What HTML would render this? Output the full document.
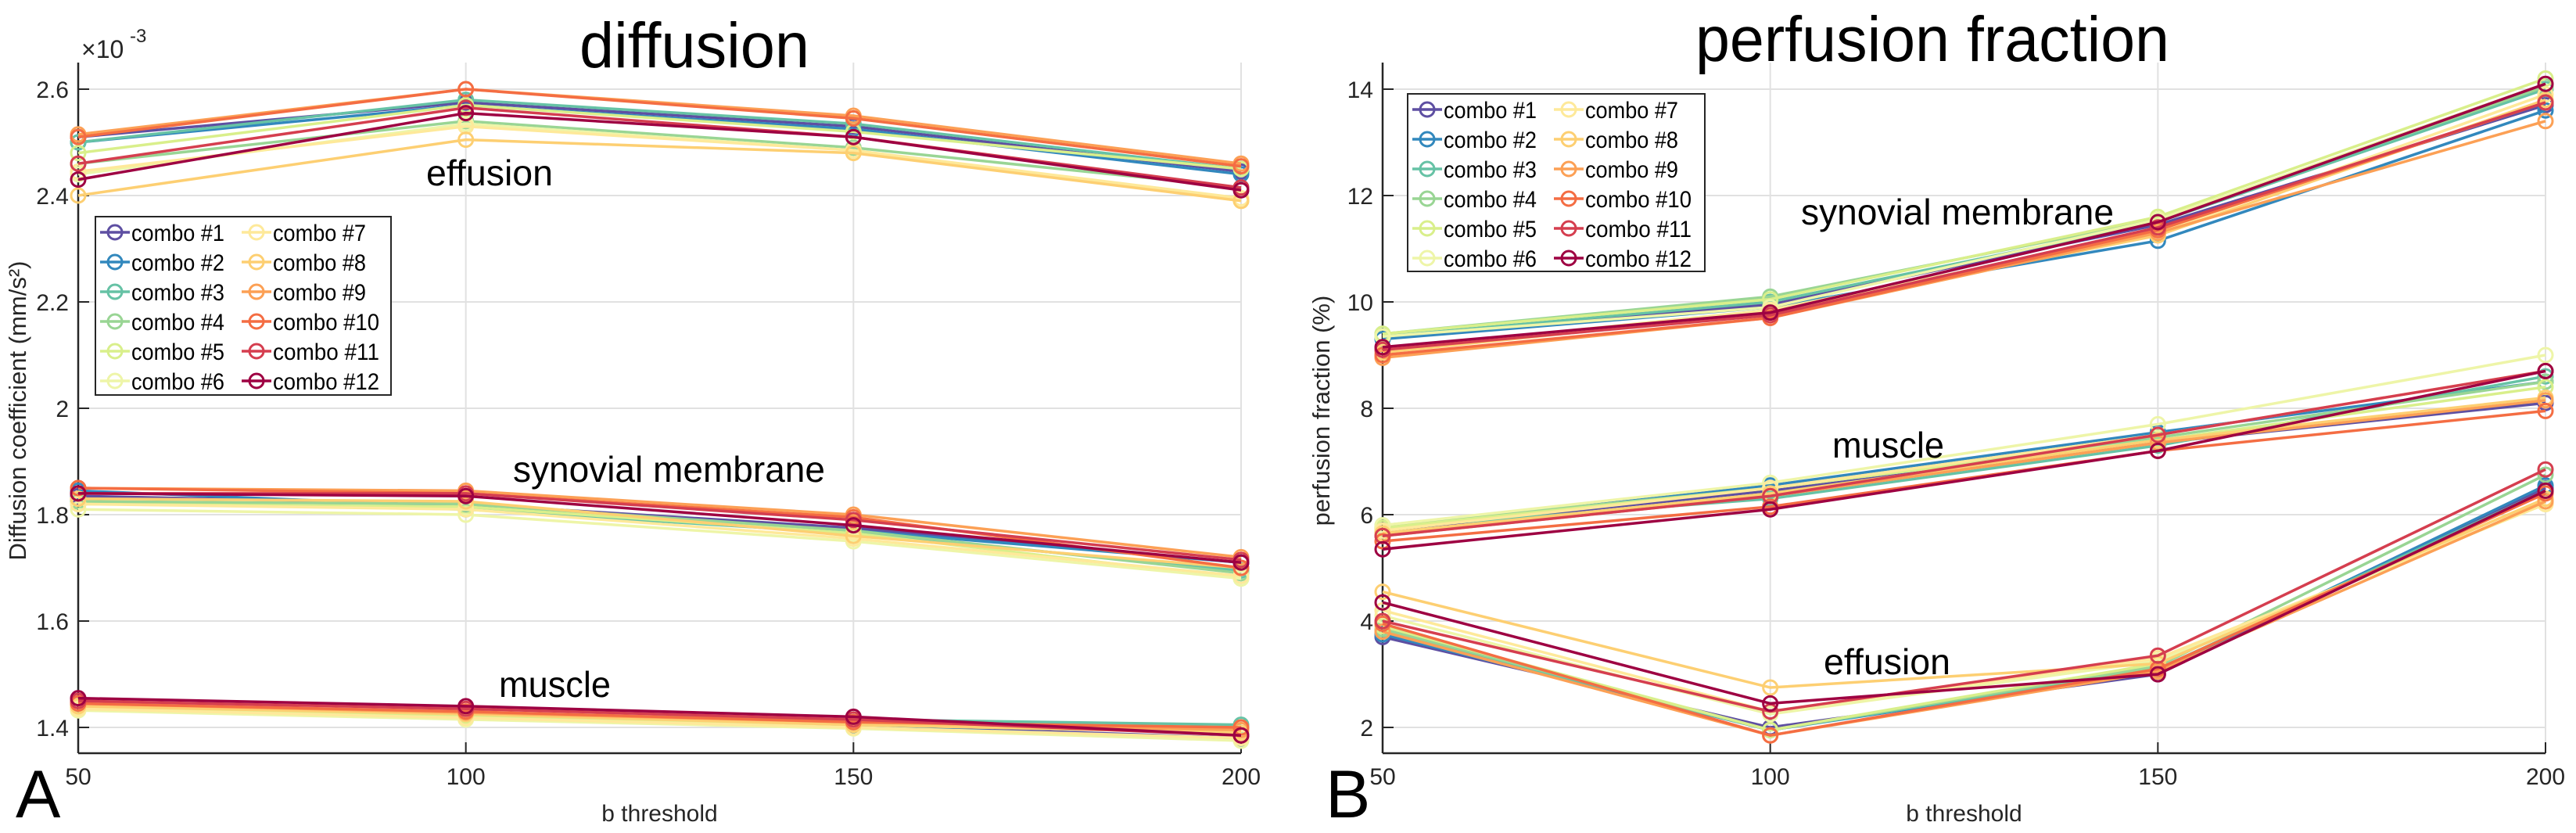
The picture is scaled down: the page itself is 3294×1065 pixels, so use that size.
<!DOCTYPE html>
<html><head><meta charset="utf-8"><style>
html,body{margin:0;padding:0;background:#fff;}
svg{display:block;font-family:"Liberation Sans",sans-serif;}
</style></head><body>
<svg id="fig" width="3294" height="1065" viewBox="0 0 3294 1065" xmlns="http://www.w3.org/2000/svg"></svg>
<script>
const bThresholds = [50, 100, 150, 200];
const comboNames = ["combo #1","combo #2","combo #3","combo #4","combo #5","combo #6","combo #7","combo #8","combo #9","combo #10","combo #11","combo #12"];
const comboColors = ["#5e4fa2","#3288bd","#66c2a5","#99d594","#d9ef8b","#eef5a8","#fee99a","#fdcf72","#fca055","#f46d43","#d53e4f","#9e0142"];
// diffusion (x1e-3)
const diffEffusion = [
 [2.51,2.575,2.53,2.445],[2.50,2.57,2.525,2.44],[2.50,2.58,2.535,2.45],[2.46,2.54,2.49,2.415],
 [2.48,2.57,2.52,2.45],[2.44,2.535,2.485,2.39],[2.445,2.53,2.485,2.395],[2.40,2.505,2.48,2.39],
 [2.515,2.60,2.55,2.46],[2.51,2.60,2.545,2.455],[2.46,2.565,2.51,2.415],[2.43,2.555,2.51,2.41]];
const diffSynovial = [
 [1.835,1.82,1.775,1.71],[1.845,1.815,1.77,1.71],[1.825,1.81,1.765,1.695],[1.825,1.82,1.77,1.69],
 [1.82,1.815,1.765,1.68],[1.81,1.80,1.75,1.68],[1.82,1.81,1.755,1.685],[1.83,1.825,1.76,1.70],
 [1.85,1.845,1.80,1.72],[1.85,1.84,1.795,1.70],[1.84,1.84,1.79,1.715],[1.84,1.835,1.78,1.71]];
const diffMuscle = [
 [1.44,1.425,1.405,1.38],[1.435,1.418,1.402,1.378],[1.44,1.425,1.415,1.405],[1.44,1.425,1.41,1.40],
 [1.438,1.422,1.405,1.39],[1.432,1.415,1.398,1.375],[1.435,1.418,1.40,1.38],[1.44,1.425,1.405,1.39],
 [1.445,1.428,1.41,1.395],[1.445,1.43,1.41,1.40],[1.45,1.435,1.415,1.385],[1.455,1.44,1.42,1.385]];
// perfusion fraction (%)
const perfSynovial = [
 [9.35,9.95,11.45,13.7],[9.3,9.9,11.15,13.6],[9.35,10.0,11.5,14.0],[9.4,10.1,11.55,14.05],
 [9.4,10.05,11.6,14.2],[9.35,9.9,11.55,14.1],[9.1,9.85,11.3,13.9],[9.05,9.8,11.25,13.8],
 [8.95,9.7,11.3,13.4],[9.0,9.7,11.35,13.75],[9.1,9.75,11.4,13.75],[9.15,9.8,11.5,14.1]];
const perfMuscle = [
 [5.7,6.45,7.35,8.1],[5.75,6.55,7.55,8.5],[5.75,6.3,7.3,8.6],[5.8,6.5,7.45,8.5],
 [5.75,6.5,7.4,8.4],[5.8,6.6,7.7,9.0],[5.7,6.5,7.5,8.7],[5.65,6.4,7.4,8.2],
 [5.6,6.35,7.35,8.15],[5.5,6.15,7.2,7.95],[5.6,6.35,7.5,8.7],[5.35,6.1,7.2,8.7]];
const perfEffusion = [
 [3.7,2.0,3.0,6.5],[3.75,1.95,3.05,6.55],[3.8,1.95,3.1,6.45],[3.85,1.95,3.15,6.75],
 [3.9,1.95,3.2,6.3],[4.1,2.25,3.25,6.2],[4.2,2.3,3.3,6.2],[4.55,2.75,3.2,6.3],
 [3.8,1.85,3.05,6.25],[3.95,1.85,3.1,6.4],[4.0,2.3,3.35,6.85],[4.35,2.45,3.0,6.45]];
const diffTicks = [1.4,1.6,1.8,2.0,2.2,2.4,2.6];
const diffTickLabels = ["1.4","1.6","1.8","2","2.2","2.4","2.6"];
const perfTicks = [2,4,6,8,10,12,14];
const perfTickLabels = ["2","4","6","8","10","12","14"];

const NS = "http://www.w3.org/2000/svg";
const svg = document.getElementById("fig");
function mk(tag, attrs, parent, name, inter){
  const e = document.createElementNS(NS, tag);
  for (const k in attrs) e.setAttribute(k, attrs[k]);
  
  
  (parent||svg).appendChild(e); return e;
}
function txt(s, attrs, parent, name){ const t = mk("text", attrs, parent, name, false); t.textContent = s; return t; }

function panel(cfg){
  const g = mk("g", {}, svg, cfg.name, false);
  const X = v => cfg.x0 + (v-50)/(150)*(cfg.x1-cfg.x0);
  const Y = v => cfg.yTop + (cfg.yMax - v)/(cfg.yMax-cfg.yMin)*(cfg.yBot-cfg.yTop);
  cfg.ticks.forEach((t,i)=>{
    mk("line",{x1:cfg.x0,x2:cfg.x1,y1:Y(t),y2:Y(t),stroke:"#e1e1e1","stroke-width":2},g,"y-gridline",false);
    mk("line",{x1:cfg.x0,x2:cfg.x0+14,y1:Y(t),y2:Y(t),stroke:"#262626","stroke-width":2},g,"y-tick",false);
    txt(cfg.tickLabels[i],{x:cfg.x0-12,y:Y(t)+11,"text-anchor":"end","font-size":30,fill:"#262626"},g,"y-tick-label");
  });
  bThresholds.forEach(b=>{
    mk("line",{x1:X(b),x2:X(b),y1:cfg.yTop,y2:cfg.yBot,stroke:"#e1e1e1","stroke-width":2},g,"x-gridline",false);
    mk("line",{x1:X(b),x2:X(b),y1:cfg.yBot,y2:cfg.yBot-14,stroke:"#262626","stroke-width":2},g,"x-tick",false);
    txt(String(b),{x:X(b),y:cfg.yBot+40,"text-anchor":"middle","font-size":30,fill:"#262626"},g,"x-tick-label");
  });
  mk("line",{x1:cfg.x0,x2:cfg.x0,y1:cfg.yTop,y2:cfg.yBot,stroke:"#262626","stroke-width":2.5},g,"y-axis",false);
  mk("line",{x1:cfg.x0,x2:cfg.x1,y1:cfg.yBot,y2:cfg.yBot,stroke:"#262626","stroke-width":2.5},g,"x-axis",false);
  cfg.groups.forEach(grp=>{
    grp.data.forEach((row,si)=>{
      const pts = row.map((v,i)=>X(bThresholds[i])+","+Y(v)).join(" ");
      mk("polyline",{points:pts,fill:"none",stroke:comboColors[si],"stroke-width":3.5},g,grp.name+"-line-combo-"+(si+1),false);
      row.forEach((v,i)=>{
        mk("circle",{cx:X(bThresholds[i]),cy:Y(v),r:9,fill:"none",stroke:comboColors[si],"stroke-width":3},g,grp.name+"-marker-combo-"+(si+1),false);
      });
    });
  });
  cfg.annots.forEach(a=>txt(a.t,{x:a.x,y:a.y,"font-size":46,fill:"#000",textLength:a.w,lengthAdjust:"spacingAndGlyphs"},g,a.name));
  const L = cfg.legend;
  mk("rect",{x:L.x,y:L.y,width:L.w,height:L.h,fill:"#fff",stroke:"#262626","stroke-width":2},g,"legend-box",false);
  comboNames.forEach((n,i)=>{
    const col = Math.floor(i/6), row = i%6;
    const lx = L.x + 6 + col*L.colW, ly = L.y + 20 + row*38;
    const le = mk("g",{},g,"legend-entry-combo-"+(i+1),true);
    mk("line",{x1:lx,x2:lx+38,y1:ly,y2:ly,stroke:comboColors[i],"stroke-width":3.5},le,"legend-line",false);
    mk("circle",{cx:lx+19,cy:ly,r:9,fill:"none",stroke:comboColors[i],"stroke-width":3},le,"legend-marker",false);
    txt(n,{x:lx+40,y:ly+11,"font-size":30,fill:"#000",textLength:n.length>8?136:119,lengthAdjust:"spacingAndGlyphs"},le,"legend-label");
  });
  txt(cfg.title,{x:cfg.titleX,y:cfg.titleY,"text-anchor":"middle","font-size":82,fill:"#000",textLength:cfg.titleW,lengthAdjust:"spacingAndGlyphs"},g,"chart-title");
  txt("b threshold",{x:(cfg.x0+cfg.x1)/2,y:1050,"text-anchor":"middle","font-size":30,fill:"#262626"},g,"x-axis-title");
  txt(cfg.ylabel,{x:0,y:0,"text-anchor":"middle","font-size":31,fill:"#262626",transform:"translate("+cfg.ylabX+","+cfg.ylabY+") rotate(-90)"},g,"y-axis-title");
  txt(cfg.letter,{x:cfg.letterX,y:1045,"font-size":86,fill:"#000"},g,"panel-letter");
}

panel({name:"diffusion-panel",x0:100,x1:1587,yTop:80,yBot:963,yMin:1.3515,yMax:2.65,
  ticks:diffTicks,tickLabels:diffTickLabels,
  groups:[{name:"effusion",data:diffEffusion},{name:"synovial",data:diffSynovial},{name:"muscle",data:diffMuscle}],
  annots:[{t:"effusion",x:545,y:237,w:162,name:"effusion-label"},{t:"synovial membrane",x:656,y:616,w:399,name:"synovial-membrane-label"},{t:"muscle",x:638,y:891,w:143,name:"muscle-label"}],
  legend:{x:122,y:277,w:378,h:228,colW:181},
  title:"diffusion",titleX:888,titleY:86,titleW:294,
  ylabel:"Diffusion coefficient (mm/s²)",ylabX:33,ylabY:525,letter:"A",letterX:20});
txt("×10",{x:104,y:74,"font-size":32,fill:"#262626"},svg,"y-axis-exponent");
txt("-3",{x:166,y:54,"font-size":24,fill:"#262626"},svg,"y-axis-exponent-power");

panel({name:"perfusion-panel",x0:1768,x1:3255,yTop:80,yBot:963,yMin:1.515,yMax:14.5,
  ticks:perfTicks,tickLabels:perfTickLabels,
  groups:[{name:"synovial",data:perfSynovial},{name:"muscle",data:perfMuscle},{name:"effusion",data:perfEffusion}],
  annots:[{t:"synovial membrane",x:2303,y:287,w:400,name:"synovial-membrane-label"},{t:"muscle",x:2343,y:585,w:143,name:"muscle-label"},{t:"effusion",x:2332,y:862,w:162,name:"effusion-label"}],
  legend:{x:1800,y:120,w:380,h:227,colW:181},
  title:"perfusion fraction",titleX:2471,titleY:78,titleW:606,
  ylabel:"perfusion fraction (%)",ylabX:1700,ylabY:525,letter:"B",letterX:1695});
</script>
</body></html>
